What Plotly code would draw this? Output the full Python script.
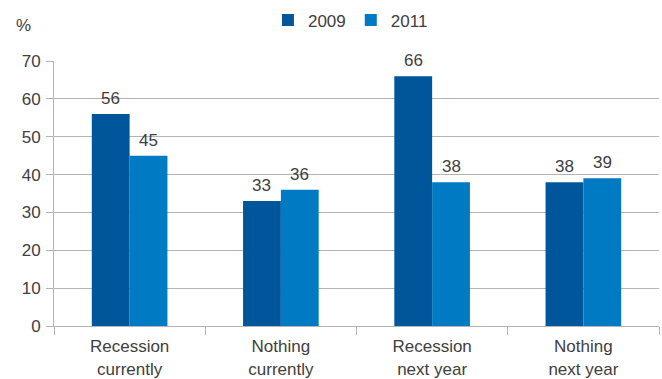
import plotly.graph_objects as go

categories = ["Recession<br>currently", "Nothing<br>currently", "Recession<br>next year", "Nothing<br>next year"]
values_2009 = [56, 33, 66, 38]
values_2011 = [45, 36, 38, 39]
series_names = ["2009", "2011"]
y_ticks = [0, 10, 20, 30, 40, 50, 60, 70]

colors = ["#00569A", "#007AC3"]
text_color = "#404040"
grid_color = "#b4b4b4"
font_family = "Liberation Sans, Arial, sans-serif"
fsize = 17

fig = go.Figure()
for name, vals, col in zip(series_names, [values_2009, values_2011], colors):
    fig.add_trace(go.Bar(x=categories, y=vals, name=name, marker=dict(color=col, line=dict(width=0))))

# value labels above each bar
offsets = [-0.125, 0.125]
for off, vals in zip(offsets, [values_2009, values_2011]):
    for i, v in enumerate(vals):
        fig.add_annotation(x=i + off, y=v, xref="x", yref="y", text=str(v), showarrow=False,
                           yanchor="bottom", yshift=4,
                           font=dict(size=fsize, color=text_color, family=font_family))

# unit label above the y axis
fig.add_annotation(xref="x domain", yref="y domain", x=-0.05, y=1.0, yshift=36,
                   text="%", showarrow=False, xanchor="center", yanchor="middle",
                   font=dict(size=fsize, color=text_color, family=font_family))

fig.update_layout(
    width=662, height=379,
    margin=dict(l=54, r=3, t=61, b=53),
    paper_bgcolor="white", plot_bgcolor="white",
    barmode="group", bargap=0.5, bargroupgap=0,
    font=dict(family=font_family, size=fsize, color=text_color),
    showlegend=True,
    legend=dict(orientation="h", x=0.49, xanchor="center", y=1.085, yanchor="bottom",
                font=dict(size=fsize, color=text_color), traceorder="normal",
                itemwidth=30, tracegroupgap=0),
    xaxis=dict(type="category", showgrid=False, showline=True, linecolor=grid_color, linewidth=1,
               ticks="outside", tickson="boundaries", ticklen=8, tickcolor=grid_color,
               ticklabelstandoff=5, automargin=False, tickfont=dict(size=fsize, color=text_color)),
    yaxis=dict(range=[0, 70], tickvals=y_ticks, showgrid=True, gridcolor=grid_color, gridwidth=1,
               showline=True, linecolor=grid_color, linewidth=1, ticks="outside", ticklen=7,
               tickcolor=grid_color, zeroline=False, ticklabelstandoff=2, automargin=False,
               tickfont=dict(size=fsize, color=text_color)),
)

fig.write_html("out.html")
